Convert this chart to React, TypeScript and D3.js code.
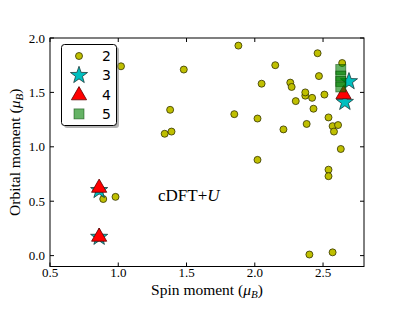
import * as d3 from "d3";

// series "2": yellow circles
const circleX = [1.02, 1.88, 1.48, 1.38, 1.34, 1.39, 1.85, 2.02, 2.02, 2.05, 2.15, 2.26, 2.27, 2.21, 2.30, 2.37, 2.37, 2.42, 2.43, 2.38, 2.46, 2.47, 2.51, 2.54, 2.57, 2.58, 2.61, 2.63, 2.54, 2.54, 2.64, 2.40, 2.57, 0.89, 0.98];
const circleY = [1.74, 1.93, 1.71, 1.34, 1.12, 1.14, 1.30, 1.26, 0.88, 1.58, 1.75, 1.59, 1.55, 1.16, 1.42, 1.47, 1.50, 1.45, 1.35, 1.21, 1.86, 1.65, 1.48, 1.27, 1.19, 1.14, 1.20, 0.98, 0.79, 0.73, 1.77, 0.01, 0.03, 0.52, 0.54];
// series "3": stars
const starX = [0.86, 0.86, 2.69, 2.66];
const starY = [0.60, 0.17, 1.60, 1.41];
// series "4": triangles
const triX = [0.86, 0.86, 2.65];
const triY = [0.63, 0.18, 1.49];
// series "5": squares
const sqX = [2.63, 2.63, 2.63, 2.63];
const sqY = [1.71, 1.65, 1.60, 1.55];

const xTicks = [0.5, 1.0, 1.5, 2.0, 2.5];
const yTicks = [0.0, 0.5, 1.0, 1.5, 2.0];
const legendLabels = ["2", "3", "4", "5"];

const W = 415;
const H = 312;
const left = 50, right = 364, top = 38, bottom = 266.5;

const x = d3.scaleLinear().domain([0.5, 2.8]).range([left, right]);
const y = d3.scaleLinear().domain([-0.1, 2.0]).range([bottom, top]);

function starPath(r: number) {
  const pts: [number, number][] = [];
  for (let i = 0; i < 10; i++) {
    const a = -Math.PI / 2 + (i * Math.PI) / 5;
    const rr = i % 2 === 0 ? r : r * 0.4;
    pts.push([rr * Math.cos(a), rr * Math.sin(a)]);
  }
  return d3.line()(pts.concat([pts[0]])) + "Z";
}

function triPath(r: number) {
  const pts: [number, number][] = [
    [0, -r],
    [r * 0.95, r * 0.65],
    [-r * 0.95, r * 0.65],
  ];
  return d3.line()(pts) + "Z";
}

const serif = "'Liberation Serif', 'DejaVu Serif', serif";
const sans = "'DejaVu Sans', sans-serif";

function Star({ r }: { r: number }) {
  return <path d={starPath(r)} fill="#00bfbf" stroke="#1a3a3a" strokeWidth={0.8} />;
}
function Tri({ r }: { r: number }) {
  return <path d={triPath(r)} fill="#ff0000" stroke="#5a0000" strokeWidth={0.8} />;
}
function Sq({ s, alpha }: { s: number; alpha: number }) {
  return <rect x={-s / 2} y={-s / 2} width={s} height={s} fill="#008000" fillOpacity={alpha} stroke="#004000" strokeOpacity={alpha} strokeWidth={0.8} />;
}
function Dot({ r }: { r: number }) {
  return <circle r={r} fill="#bfbf00" stroke="#333300" strokeWidth={0.8} />;
}

export default function App() {
  const tickLen = 4;
  return (
    <svg width={W} height={H} style={{ position: "absolute", left: 0, top: 0 }}>
      <rect width={W} height={H} fill="white" />
      {/* marks */}
      <g>
        {circleX.map((v, i) => (
          <g key={"c" + i} transform={`translate(${x(v)},${y(circleY[i])})`}>
            <Dot r={3.5} />
          </g>
        ))}
        {starX.map((v, i) => (
          <g key={"s" + i} transform={`translate(${x(v)},${y(starY[i])})`}>
            <Star r={9} />
          </g>
        ))}
        {triX.map((v, i) => (
          <g key={"t" + i} transform={`translate(${x(v)},${y(triY[i])})`}>
            <Tri r={8} />
          </g>
        ))}
        {sqX.map((v, i) => (
          <g key={"q" + i} transform={`translate(${x(v)},${y(sqY[i])})`}>
            <Sq s={10} alpha={0.6} />
          </g>
        ))}
      </g>
      {/* frame */}
      <rect x={left} y={top} width={right - left} height={bottom - top} fill="none" stroke="black" strokeWidth={1} />
      {xTicks.map((t) => (
        <g key={"xt" + t}>
          <line x1={x(t)} x2={x(t)} y1={bottom} y2={bottom - tickLen} stroke="black" />
          <line x1={x(t)} x2={x(t)} y1={top} y2={top + tickLen} stroke="black" />
          <text x={x(t)} y={bottom + 10.5} textAnchor="middle" fontFamily={serif} fontSize={13}>
            {t.toFixed(1)}
          </text>
        </g>
      ))}
      {yTicks.map((t) => (
        <g key={"yt" + t}>
          <line x1={left} x2={left + tickLen} y1={y(t)} y2={y(t)} stroke="black" />
          <line x1={right} x2={right - tickLen} y1={y(t)} y2={y(t)} stroke="black" />
          <text x={left - 5} y={y(t) + 4.5} textAnchor="end" fontFamily={serif} fontSize={13}>
            {t.toFixed(1)}
          </text>
        </g>
      ))}
      {/* axis labels */}
      <text x={(left + right) / 2} y={295} textAnchor="middle" fontFamily={serif} fontSize={15.5}>
        Spin moment (<tspan fontStyle="italic">μ</tspan>
        <tspan fontStyle="italic" fontSize={11} dy={3}>B</tspan>
        <tspan dy={-3}>)</tspan>
      </text>
      <text transform={`translate(20,${(top + bottom) / 2}) rotate(-90)`} textAnchor="middle" fontFamily={serif} fontSize={15.5}>
        Orbital moment (<tspan fontStyle="italic">μ</tspan>
        <tspan fontStyle="italic" fontSize={11} dy={3}>B</tspan>
        <tspan dy={-3}>)</tspan>
      </text>
      {/* annotation */}
      <text x={158} y={201} fontFamily={serif} fontSize={17}>
        cDFT+<tspan fontStyle="italic">U</tspan>
      </text>
      {/* legend */}
      <g>
        <rect x={64} y={47} width={55} height={81} rx={3} fill="#808080" opacity={0.6} />
        <rect x={61.5} y={44.5} width={55} height={81} rx={3} fill="white" stroke="black" strokeWidth={1} />
        {legendLabels.map((l, i) => {
          const ly = 56 + i * 19.3;
          return (
            <g key={"lg" + l}>
              <g transform={`translate(79,${ly})`}>
                {i === 0 && <Dot r={3.5} />}
                {i === 1 && <Star r={9} />}
                {i === 2 && <Tri r={8} />}
                {i === 3 && <Sq s={10} alpha={0.6} />}
              </g>
              <text x={102} y={ly + 5} fontFamily={sans} fontSize={14}>
                {l}
              </text>
            </g>
          );
        })}
      </g>
    </svg>
  );
}
